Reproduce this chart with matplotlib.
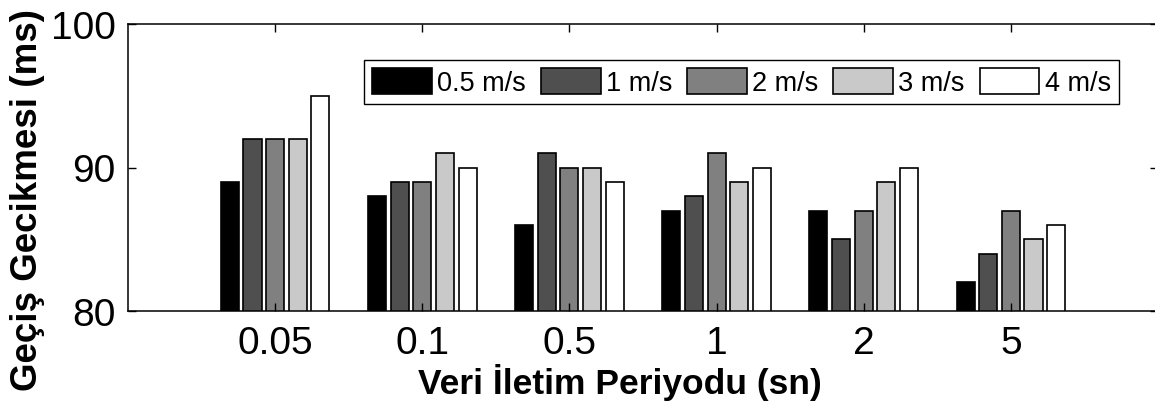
import matplotlib
matplotlib.use("Agg")
import matplotlib.pyplot as plt
import numpy as np

# veri iletim periyotlari ve hizlara gore gecis gecikmeleri (ms)
periyotlar = ["0.05", "0.1", "0.5", "1", "2", "5"]
hizlar = ["0.5 m/s", "1 m/s", "2 m/s", "3 m/s", "4 m/s"]
gecikme_05 = [89, 88, 86, 87, 87, 82]
gecikme_1 = [92, 89, 91, 88, 85, 84]
gecikme_2 = [92, 89, 90, 91, 87, 87]
gecikme_3 = [92, 91, 90, 89, 89, 85]
gecikme_4 = [95, 90, 89, 90, 90, 86]
renkler = ["#000000", "#4f4f4f", "#808080", "#c9c9c9", "#ffffff"]

plt.rcParams["font.family"] = ["Liberation Sans", "DejaVu Sans"]

fig = plt.figure(figsize=(11.55, 4.10), dpi=100)
ax = fig.add_axes([128 / 1155, 1 - 312 / 410, 1030 / 1155, 287 / 410])

seriler = [gecikme_05, gecikme_1, gecikme_2, gecikme_3, gecikme_4]
x = np.arange(1, len(periyotlar) + 1)
n = len(seriler)
grup = min(0.8, n / (n + 1.5))
adim = grup / n
for i, (seri, renk, etiket) in enumerate(zip(seriler, renkler, hizlar)):
    konum = x - grup / 2 + adim * (i + 0.5)
    ax.bar(konum, seri, width=adim * 0.8, color=renk, edgecolor="black",
           linewidth=1.2, label=etiket, zorder=1)

ax.set_xlim(0, 7)
ax.set_ylim(80, 100)
ax.set_xticks(x)
ax.set_xticklabels(periyotlar)
ax.set_yticks([80, 90, 100])
ax.tick_params(direction="in", top=True, right=True, length=6, width=1,
               labelsize=28, colors="black")
ax.tick_params(axis="x", pad=10)
ax.tick_params(axis="y", pad=9)
for s in ax.spines.values():
    s.set_linewidth(1.1)
    s.set_zorder(3)

ax.set_xlabel("Veri İletim Periyodu (sn)", fontsize=25.5, fontweight="bold")
ax.set_ylabel("Geçiş Gecikmesi (ms)", fontsize=26.5, fontweight="bold")
ax.xaxis.set_label_coords(0.478, -0.18)
ax.yaxis.set_label_coords(-0.081, 0.39)

leg = ax.legend(ncol=5, loc="upper right", bbox_to_anchor=(0.962, 0.875),
                fontsize=19.5, frameon=True, fancybox=False, framealpha=1,
                edgecolor="black", handlelength=2.2, handleheight=1.1,
                handletextpad=0.2, columnspacing=0.55, borderpad=0.3,
                borderaxespad=0)
leg.get_frame().set_linewidth(1.0)

fig.savefig("out.png", dpi=100)
